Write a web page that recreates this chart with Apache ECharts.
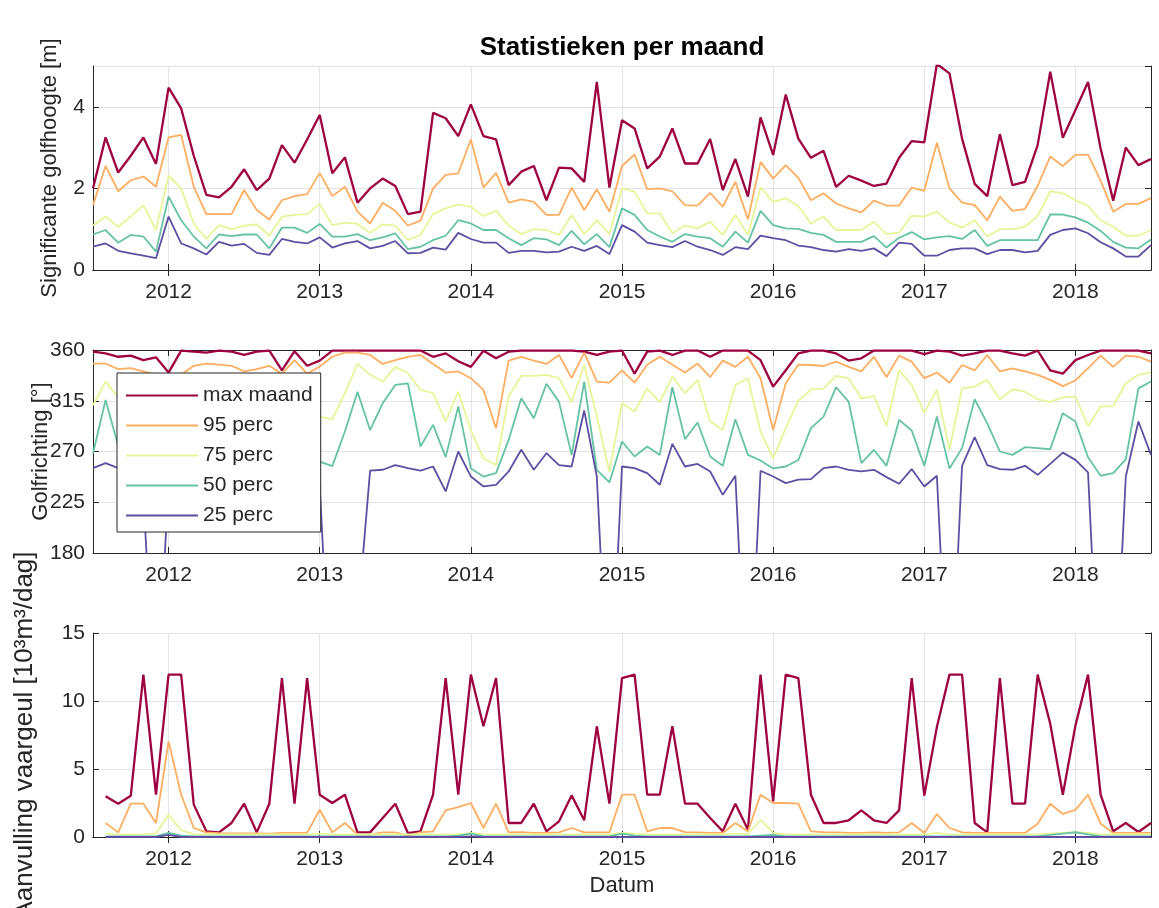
<!DOCTYPE html>
<html>
<head>
<meta charset="utf-8">
<script src="https://cdn.jsdelivr.net/npm/echarts@6/dist/echarts.min.js"></script>
<style>
  html, body { margin: 0; padding: 0; background: #fff; }
  #chart { width: 1159px; height: 908px; }
</style>
</head>
<body>
<div id="chart"></div>
<script>
// maanden: juli 2011 t/m juli 2018
const startYear = 2011, startMonth = 7, nMonths = 85
const months = []
for (let i = 0; i < nMonths; i++) {
    const m = startMonth - 1 + i
    months.push((startYear + Math.floor(m / 12)) + '-' + String(m % 12 + 1).padStart(2, '0'))
}

const seriesNames = ['max maand', '95 perc', '75 perc', '50 perc', '25 perc']
const colors = ['#9e0142', '#fdae61', '#e6f598', '#66c2a5', '#5e4fa2']

// Significante golfhoogte [m]
const hMax = [2.0, 3.25, 2.39, 2.8, 3.25, 2.6, 4.47, 3.96, 2.8, 1.84,
    1.78, 2.04, 2.47, 1.96, 2.24, 3.06, 2.63, 3.2, 3.8, 2.37,
    2.76, 1.65, 2.0, 2.24, 2.06, 1.37, 1.43, 3.85, 3.72,
    3.28, 4.06, 3.28, 3.2, 2.08, 2.41, 2.55, 1.71, 2.51, 2.49,
    2.16, 4.61, 2.02, 3.67, 3.47, 2.49, 2.78, 3.47, 2.61, 2.61,
    3.21, 1.96, 2.72, 1.8, 3.74, 2.82, 4.3, 3.22,
    2.75, 2.92, 2.04, 2.31, 2.19, 2.06, 2.12, 2.75, 3.16, 3.13,
    5.05, 4.82, 3.22, 2.11, 1.81, 3.33, 2.08, 2.16, 3.06, 4.86,
    3.24, 3.92, 4.61, 2.98, 1.7, 3.0, 2.57, 2.72]
const h95 = [1.59, 2.55, 1.93, 2.2, 2.29, 2.04, 3.25, 3.31, 2.04, 1.37,
    1.37, 1.37, 1.96, 1.47, 1.24, 1.71, 1.81, 1.86, 2.38, 1.81,
    2.04, 1.43, 1.14, 1.65, 1.45, 1.09, 1.21, 2.0, 2.33,
    2.37, 3.2, 2.02, 2.38, 1.65, 1.73, 1.67, 1.35, 1.35, 2.02,
    1.47, 1.98, 1.43, 2.55, 2.83, 1.98, 2.0, 1.93, 1.59, 1.58,
    1.89, 1.55, 2.16, 1.24, 2.65, 2.24, 2.57, 2.26,
    1.71, 1.88, 1.63, 1.51, 1.41, 1.7, 1.58, 1.58, 2.02, 1.94,
    3.12, 2.0, 1.65, 1.59, 1.22, 1.8, 1.45, 1.5, 2.06, 2.78,
    2.55, 2.82, 2.83, 2.19, 1.43, 1.62, 1.62, 1.76]
const h75 = [1.09, 1.31, 1.06, 1.31, 1.59, 0.98, 2.31, 2.0, 1.14, 0.76,
    1.1, 1.0, 1.09, 1.12, 0.84, 1.31, 1.35, 1.37, 1.62, 1.1,
    1.16, 1.13, 0.91, 1.12, 1.09, 0.73, 0.86, 1.37, 1.51,
    1.61, 1.55, 1.32, 1.45, 1.09, 0.88, 1.0, 0.98, 0.86, 1.35,
    0.88, 1.22, 0.88, 2.0, 1.92, 1.39, 1.39, 0.9, 1.09, 1.02,
    1.18, 0.86, 1.35, 0.86, 2.02, 1.67, 1.76, 1.57,
    1.14, 1.31, 0.98, 0.98, 0.98, 1.18, 0.88, 0.92, 1.33, 1.31,
    1.43, 1.16, 1.04, 1.22, 0.82, 1.0, 1.0, 1.06, 1.32, 1.93,
    1.88, 1.71, 1.57, 1.22, 1.06, 0.84, 0.84, 0.98]
const h50 = [0.87, 0.98, 0.67, 0.86, 0.82, 0.45, 1.8, 1.22, 0.82, 0.53,
    0.87, 0.83, 0.87, 0.87, 0.53, 1.04, 1.04, 0.91, 1.13, 0.82,
    0.82, 0.88, 0.73, 0.8, 0.9, 0.51, 0.57, 0.73, 0.84,
    1.22, 1.14, 0.98, 0.98, 0.78, 0.61, 0.78, 0.75, 0.61, 0.96,
    0.63, 0.88, 0.56, 1.51, 1.35, 0.98, 0.82, 0.69, 0.88, 0.82,
    0.78, 0.57, 0.94, 0.67, 1.45, 1.1, 1.02, 1.01,
    0.91, 0.86, 0.69, 0.69, 0.69, 0.83, 0.55, 0.79, 0.93, 0.75,
    0.8, 0.83, 0.76, 0.98, 0.59, 0.73, 0.73, 0.73, 0.73, 1.36,
    1.36, 1.29, 1.16, 0.96, 0.69, 0.55, 0.53, 0.75]
const h25 = [0.57, 0.65, 0.47, 0.41, 0.35, 0.29, 1.31, 0.65, 0.53, 0.38,
    0.69, 0.6, 0.64, 0.42, 0.37, 0.76, 0.69, 0.65, 0.8, 0.55,
    0.65, 0.71, 0.53, 0.59, 0.71, 0.41, 0.42, 0.55, 0.5,
    0.91, 0.76, 0.67, 0.67, 0.42, 0.47, 0.47, 0.43, 0.45, 0.57,
    0.47, 0.59, 0.39, 1.1, 0.94, 0.67, 0.61, 0.56, 0.71, 0.57,
    0.49, 0.37, 0.56, 0.51, 0.84, 0.78, 0.73, 0.6,
    0.56, 0.49, 0.45, 0.51, 0.47, 0.53, 0.34, 0.67, 0.64, 0.35,
    0.35, 0.49, 0.53, 0.53, 0.39, 0.49, 0.49, 0.43, 0.47, 0.86,
    0.98, 1.02, 0.9, 0.68, 0.53, 0.33, 0.33, 0.61]

// Golfrichting [graden]
const dMax = [358.5, 357, 354, 355, 351, 353.5, 340, 359.5, 358.5, 357.7,
    359.5, 358.5, 355.6, 358.5, 359.5, 342, 359, 346, 350.6, 359.5,
    359.5, 359.5, 359.5, 359.5, 359.5, 359.5, 359.5, 354, 357,
    350, 345, 359.4, 352.6, 358.5, 359.5, 359.5, 359.5, 359.5, 359.5,
    358.5, 355.6, 358.5, 359.5, 339, 358.5, 359.4, 355.6, 359.5, 359.5,
    354, 359.5, 359.5, 359.5, 351, 327.5, 342, 357,
    359.5, 359.5, 357, 350.6, 352.6, 359.5, 359.5, 359.5, 359.5, 356.4,
    359.5, 358.5, 355, 357, 359.5, 359.5, 357, 355, 359.4, 342,
    339, 351, 355.6, 359.5, 359.5, 359.5, 359.5, 357]
const d95 = [348, 348, 343, 344, 341, 338, 335, 338, 346, 348,
    347, 346, 341, 343, 346, 339, 351, 339, 345.4, 354,
    357.7, 357.7, 355.6, 347.6, 351, 354, 355.6, 347.6, 340,
    341, 335, 324.6, 290.7, 350.6, 354, 350.6, 347.6, 355.6, 335,
    357.7, 332, 331, 342, 331, 347, 354, 347, 340, 348,
    336, 350.6, 345, 354, 335, 289, 330.5, 347,
    346.7, 345.8, 349.7, 345, 341, 354, 336, 355, 349.7, 335,
    340, 331, 346.7, 342, 355.6, 341, 343.8, 341, 337.9, 333.5,
    328, 333, 343.8, 355, 345, 355, 354, 349.7]
const d75 = [311, 332, 318, 322, 312, 315, 325, 320, 310, 305,
    315, 320, 312, 318, 325, 310, 318, 312, 301, 298.6,
    321.7, 347.6, 338, 332, 345, 339.4, 324.6, 321.7, 296.6,
    323, 289, 264, 258, 318.7, 337, 337, 338, 335, 314,
    346.7, 301, 252, 312.8, 305.4, 326, 313.7, 336.4, 321.7, 333.5,
    296.6, 289, 329, 335, 287.7, 264, 290.7, 315,
    325, 325.8, 337, 335, 317, 319.3, 292.7, 342.3, 329, 304.5,
    324.6, 271.5, 326, 327.5, 333.5, 316.3, 325, 323, 316.3, 314,
    318, 318.7, 292.7, 310, 310, 330.5, 338, 340]
const d50 = [268.5, 315.7, 275, 290, 280, 270, 300, 285, 290, 280,
    295, 300, 290, 285, 295, 280, 290, 285, 261, 257,
    287.7, 323, 289, 312.8, 329, 330.5, 274.4, 293.6, 265,
    310, 255, 247.8, 250.8, 280.3, 317.2, 299.5, 330, 314, 267,
    332, 253.8, 242.6, 278.9, 265.6, 274.4, 267, 327, 281, 295.7,
    265.6, 257.3, 298.6, 267, 262, 255, 256.7, 262.5,
    290.7, 301, 327, 314, 259.7, 271.5, 257.3, 298, 288.6, 257.3,
    301, 255, 273, 316.3, 295, 270, 267, 273.8, 273, 272,
    304, 296.6, 265, 248.5, 250.8, 263, 326, 332]
const d25 = [255.3, 259.7, 255.3, 250, 232, 20, 245, 255, 258, 252,
    256, 260, 254, 258, 262, 255, 258, 250, 240, 20,
    20, 120, 253, 253.8, 258, 255.3, 253, 256.7, 234.6,
    270, 247.8, 239, 240.5, 252.3, 271.5, 253.8, 268.5, 258, 256.7,
    306.3, 247.8, 20, 256.7, 255.3, 250.8, 240.5, 276.8, 256.7, 259,
    252.3, 231.6, 248.5, 20, 252.9, 247.8, 242, 245,
    245.5, 255.3, 256.7, 253.8, 252.3, 253.8, 247.3, 241.4, 254.4, 239,
    248.5, 20, 257.3, 282.7, 258, 254.4, 253.8, 257.3, 249.3, 259,
    269, 262.6, 251.4, 20, 20, 247.8, 296.6, 267]

// Aanvulling vaargeul [10^3 m^3/dag]
const qMax = [null, 2.99, 2.45, 3.04, 11.94, 3.11, 11.94, 11.94, 2.38, 0.42,
    0.34, 1.03, 2.45, 0.34, 2.45, 11.69, 2.45, 11.69, 3.11, 2.5,
    3.11, 0.34, 0.34, 1.4, 2.45, 0.29, 0.42, 3.11, 11.69,
    3.11, 11.94, 8.14, 11.69, 1.03, 1.03, 2.45, 0.42, 1.15, 3.06,
    1.23, 8.14, 2.45, 11.69, 11.94, 3.11, 3.11, 8.14, 2.45, 2.45,
    1.4, 0.42, 2.45, 0.54, 11.94, 2.62, 11.94, 11.69,
    3.11, 1.03, 1.03, 1.23, 1.96, 1.23, 1.03, 1.96, 11.69, 3.04,
    8.09, 11.94, 11.94, 1.03, 0.34, 11.69, 2.45, 2.45, 11.94, 8.33,
    3.11, 8.19, 11.94, 3.11, 0.42, 1.03, 0.37, 1.03]
const q95 = [null, 1.03, 0.34, 2.45, 2.45, 1.03, 7.03, 3.11, 0.66, 0.34,
    0.29, 0.27, 0.27, 0.27, 0.25, 0.3, 0.3, 0.3, 2.0, 0.34,
    1.03, 0.17, 0.17, 0.34, 0.34, 0.1, 0.34, 0.42, 1.96,
    2.2, 2.5, 0.66, 2.45, 0.34, 0.36, 0.3, 0.3, 0.34, 0.66,
    0.34, 0.34, 0.34, 3.11, 3.11, 0.42, 0.66, 0.66, 0.36, 0.34,
    0.3, 0.3, 1.03, 0.42, 3.11, 2.5, 2.5, 2.45,
    0.42, 0.36, 0.34, 0.3, 0.3, 0.34, 0.3, 0.34, 1.03, 0.3,
    1.69, 0.66, 0.34, 0.3, 0.3, 0.3, 0.3, 0.3, 0.98, 2.45,
    1.69, 2.0, 3.11, 0.98, 0.3, 0.3, 0.3, 0.3]
const q75 = [null, 0.25, 0.2, 0.2, 0.2, 0.25, 1.64, 0.5, 0.2, 0.2,
    0.2, 0.2, 0.2, 0.2, 0.2, 0.2, 0.2, 0.2, 0.25, 0.2,
    0.2, 0.2, 0.2, 0.2, 0.2, 0.2, 0.2, 0.2, 0.2,
    0.2, 0.3, 0.2, 0.2, 0.2, 0.2, 0.2, 0.2, 0.2, 0.2,
    0.2, 0.2, 0.2, 0.3, 0.25, 0.2, 0.2, 0.2, 0.2, 0.2,
    0.2, 0.2, 0.25, 0.2, 1.27, 0.3, 0.2, 0.2,
    0.2, 0.2, 0.2, 0.2, 0.2, 0.2, 0.2, 0.2, 0.2, 0.2,
    0.3, 0.2, 0.2, 0.2, 0.2, 0.2, 0.2, 0.2, 0.2, 0.25,
    0.3, 0.35, 0.3, 0.2, 0.2, 0.2, 0.2, 0.2]
const q50 = [null, 0.05, 0.05, 0.05, 0.05, 0.05, 0.3, 0.1, 0.05, 0.05,
    0.05, 0.05, 0.05, 0.05, 0.05, 0.05, 0.05, 0.05, 0.05, 0.05,
    0.05, 0.05, 0.05, 0.05, 0.05, 0.05, 0.05, 0.05, 0.05,
    0.1, 0.25, 0.05, 0.05, 0.05, 0.05, 0.05, 0.05, 0.05, 0.05,
    0.05, 0.05, 0.05, 0.25, 0.1, 0.05, 0.05, 0.05, 0.05, 0.05,
    0.05, 0.05, 0.05, 0.05, 0.1, 0.15, 0.05, 0.05,
    0.05, 0.05, 0.05, 0.05, 0.05, 0.05, 0.05, 0.05, 0.05, 0.05,
    0.05, 0.05, 0.05, 0.05, 0.05, 0.05, 0.05, 0.05, 0.05, 0.15,
    0.25, 0.35, 0.2, 0.05, 0.05, 0.05, 0.05, 0.05]
const q25 = [null, 0, 0, 0, 0, 0, 0.15, 0, 0, 0,
    0, 0, 0, 0, 0, 0, 0, 0, 0, 0,
    0, 0, 0, 0, 0, 0, 0, 0, 0,
    0, 0.05, 0, 0, 0, 0, 0, 0, 0, 0,
    0, 0, 0, 0, 0, 0, 0, 0, 0, 0,
    0, 0, 0, 0, 0, 0, 0, 0,
    0, 0, 0, 0, 0, 0, 0, 0, 0, 0,
    0, 0, 0, 0, 0, 0, 0, 0, 0, 0,
    0, 0, 0, 0, 0, 0, 0, 0]

const FONT = '"Liberation Sans", Arial, Helvetica, sans-serif'
const TXT = '#262626'
const GRIDC = '#e3e3e3'
const isJan = (idx, val) => val.slice(5) === '01'

const panels = [
    {top: 66, height: 204, min: 0, max: 5, interval: 2, name: 'Significante golfhoogte [m]', gap: 32, nameSize: 22, data: [hMax, h95, h75, h50, h25]},
    {top: 350, height: 203, min: 180, max: 360, interval: 45, name: 'Golfrichting [°]', gap: 41, nameSize: 22, data: [dMax, d95, d75, d50, d25]},
    {top: 633, height: 204, min: 0, max: 15, interval: 5, name: 'Aanvulling vaargeul [10³m³/dag]', gap: 55, nameSize: 26, data: [qMax, q95, q75, q50, q25]}
]

let grids = [], xAxes = [], yAxes = [], series = []
panels.forEach((p, i) => {
    grids.push({left: 93, right: 8, top: p.top, height: p.height, containLabel: false, outerBoundsMode: 'none'})
    xAxes.push({
        type: 'category', gridIndex: i, data: months, boundaryGap: false,
        axisLine: {lineStyle: {color: TXT, width: 1}},
        axisTick: {inside: true, length: 6, interval: isJan, lineStyle: {color: TXT}},
        axisLabel: {interval: isJan, formatter: v => v.slice(0, 4), fontSize: 21, color: TXT, fontFamily: FONT, margin: 12},
        splitLine: {show: true, interval: isJan, lineStyle: {color: GRIDC}},
        name: i === 2 ? 'Datum' : '', nameLocation: 'middle', nameGap: 38,
        nameTextStyle: {fontSize: 22, color: TXT, fontFamily: FONT}
    })
    xAxes.push({
        type: 'category', gridIndex: i, data: months, boundaryGap: false, position: 'top',
        axisLine: {lineStyle: {color: TXT, width: 1}},
        axisTick: {inside: true, length: 6, interval: isJan, lineStyle: {color: TXT}},
        axisLabel: {show: false}, splitLine: {show: false}
    })
    yAxes.push({
        type: 'value', gridIndex: i, min: p.min, max: p.max, interval: p.interval,
        axisLine: {show: true, lineStyle: {color: TXT, width: 1}},
        axisTick: {show: true, inside: true, length: 6, lineStyle: {color: TXT}},
        axisLabel: {fontSize: 21, color: TXT, fontFamily: FONT, margin: 8, showMaxLabel: p.max % p.interval === 0},
        splitLine: {show: true, lineStyle: {color: GRIDC}},
        name: p.name, nameLocation: 'middle', nameGap: p.gap, nameMoveOverlap: false,
        nameTextStyle: {fontSize: p.nameSize, color: TXT, fontFamily: FONT}
    })
    yAxes.push({
        type: 'value', gridIndex: i, min: p.min, max: p.max, interval: p.interval, position: 'right',
        axisLine: {show: true, lineStyle: {color: TXT, width: 1}},
        axisTick: {show: true, inside: true, length: 6, lineStyle: {color: TXT}},
        axisLabel: {show: false}, splitLine: {show: false}
    })
    p.data.forEach((d, j) => {
        series.push({
            name: seriesNames[j], type: 'line', data: d,
            xAxisIndex: 2 * i, yAxisIndex: 2 * i,
            symbol: 'none', clip: true, connectNulls: false,
            lineStyle: {color: colors[j], width: j === 0 ? 2.3 : 1.8},
            itemStyle: {color: colors[j]}
        })
    })
})

const chart = echarts.init(document.getElementById('chart'), null, {renderer: 'canvas'})
chart.setOption({
    animation: false,
    backgroundColor: '#fff',
    textStyle: {fontFamily: FONT},
    graphic: [{
        type: 'text', x: 622, y: 48,
        style: {text: 'Statistieken per maand', font: 'bold 26px ' + FONT, fill: '#000', textAlign: 'center', textVerticalAlign: 'middle'}
    }],
    legend: {
        data: seriesNames, orient: 'vertical', left: 117, top: 373,
        itemWidth: 72, itemHeight: 14, itemGap: 9,
        padding: [12, 8, 6, 8],
        itemStyle: {opacity: 0},
        backgroundColor: '#fff', borderColor: TXT, borderWidth: 1,
        textStyle: {fontSize: 21, color: TXT, fontFamily: FONT}
    },
    grid: grids,
    xAxis: xAxes,
    yAxis: yAxes,
    series: series
})
</script>
</body>
</html>
